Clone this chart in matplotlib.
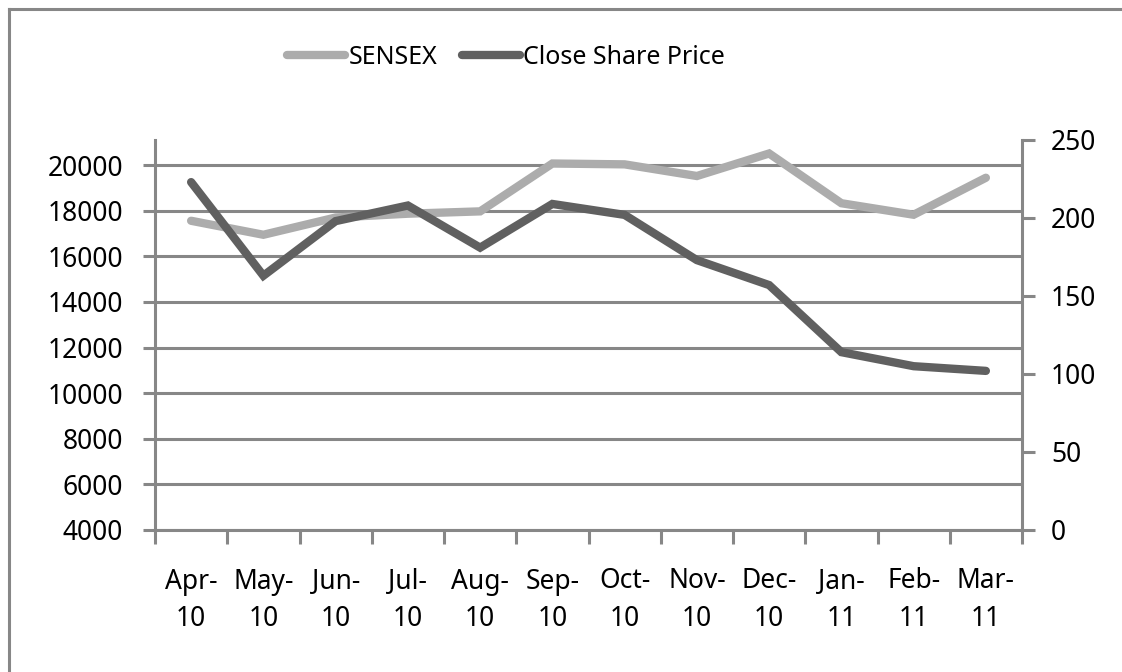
import matplotlib
matplotlib.use("Agg")
import numpy as np
from matplotlib import pyplot as plt
from matplotlib.lines import Line2D

# data
months = ["Apr-\n10", "May-\n10", "Jun-\n10", "Jul-\n10", "Aug-\n10", "Sep-\n10",
          "Oct-\n10", "Nov-\n10", "Dec-\n10", "Jan-\n11", "Feb-\n11", "Mar-\n11"]
sensex = [17558, 16945, 17701, 17868, 17971, 20069, 20032, 19521, 20509, 18328, 17823, 19445]
close_price = [223, 163, 198, 208, 181, 209, 202, 173, 157, 114, 105, 102]

left_ticks = list(range(4000, 20001, 2000))
right_ticks = list(range(0, 251, 50))

plt.rcParams['font.family'] = ['Noto Sans', 'DejaVu Sans']
grey = "#878787"

fig = plt.figure(figsize=(11.22, 6.72), dpi=100)
ax = fig.add_axes([155/1122, 1 - 530/672, (1022-155)/1122, (530-140)/672])
ax2 = ax.twinx()

x = np.arange(len(months))

# SENSEX on the left axis, close price on the right one
ax.plot(x, sensex, color="#ACACAC", lw=6, solid_capstyle="round", solid_joinstyle="miter",
        label="SENSEX", zorder=3)
ax2.plot(x, close_price, color="#606060", lw=6, solid_capstyle="round", solid_joinstyle="miter",
         label="Close Share Price", zorder=3)

ax.set_xlim(-0.5, len(months) - 0.5)
ax.set_ylim(4000, 21100)
ax.set_yticks(left_ticks)
ax2.set_ylim(0, 250)
ax2.set_yticks(right_ticks)

# x ticks at category borders, labels in the middle
ax.set_xticks(np.arange(-0.5, len(months), 1.0))
ax.set_xticklabels([])
ax.set_xticks(x, minor=True)
ax.set_xticklabels(months, minor=True, fontsize=19, linespacing=1.45)
ax.tick_params(axis="x", which="minor", length=0, pad=27)
ax.tick_params(axis="x", which="major", length=10, width=2.2, color=grey, direction="out")
ax.tick_params(axis="y", length=9, width=2.2, color=grey, labelsize=19, pad=14)
ax2.tick_params(axis="y", length=9, width=2.2, color=grey, labelsize=19, pad=12)

ax.grid(axis="y", color=grey, lw=2.2)
ax.set_axisbelow(True)

for a in (ax, ax2):
    a.spines["top"].set_visible(False)
    for s in ("left", "right", "bottom"):
        a.spines[s].set_color(grey)
        a.spines[s].set_linewidth(2.2)
ax.spines["right"].set_visible(False)
ax2.spines["left"].set_visible(False)
ax2.spines["bottom"].set_visible(False)

h1, l1 = ax.get_legend_handles_labels()
h2, l2 = ax2.get_legend_handles_labels()
fig.legend(h1 + h2, l1 + l2, loc="center", bbox_to_anchor=(506/1122, 1 - 57/672),
           ncol=2, frameon=False, fontsize=18, handlelength=2.3, handletextpad=0.15,
           columnspacing=1.0)

# outer chart border (only top and left show in the picture)
fig.add_artist(Line2D([9/1122, 9/1122], [0, 1 - 9/672], transform=fig.transFigure,
                      color=grey, lw=2.2))
fig.add_artist(Line2D([9/1122, 1], [1 - 9/672, 1 - 9/672], transform=fig.transFigure,
                      color=grey, lw=2.2))

fig.savefig("out.png", dpi=100)
